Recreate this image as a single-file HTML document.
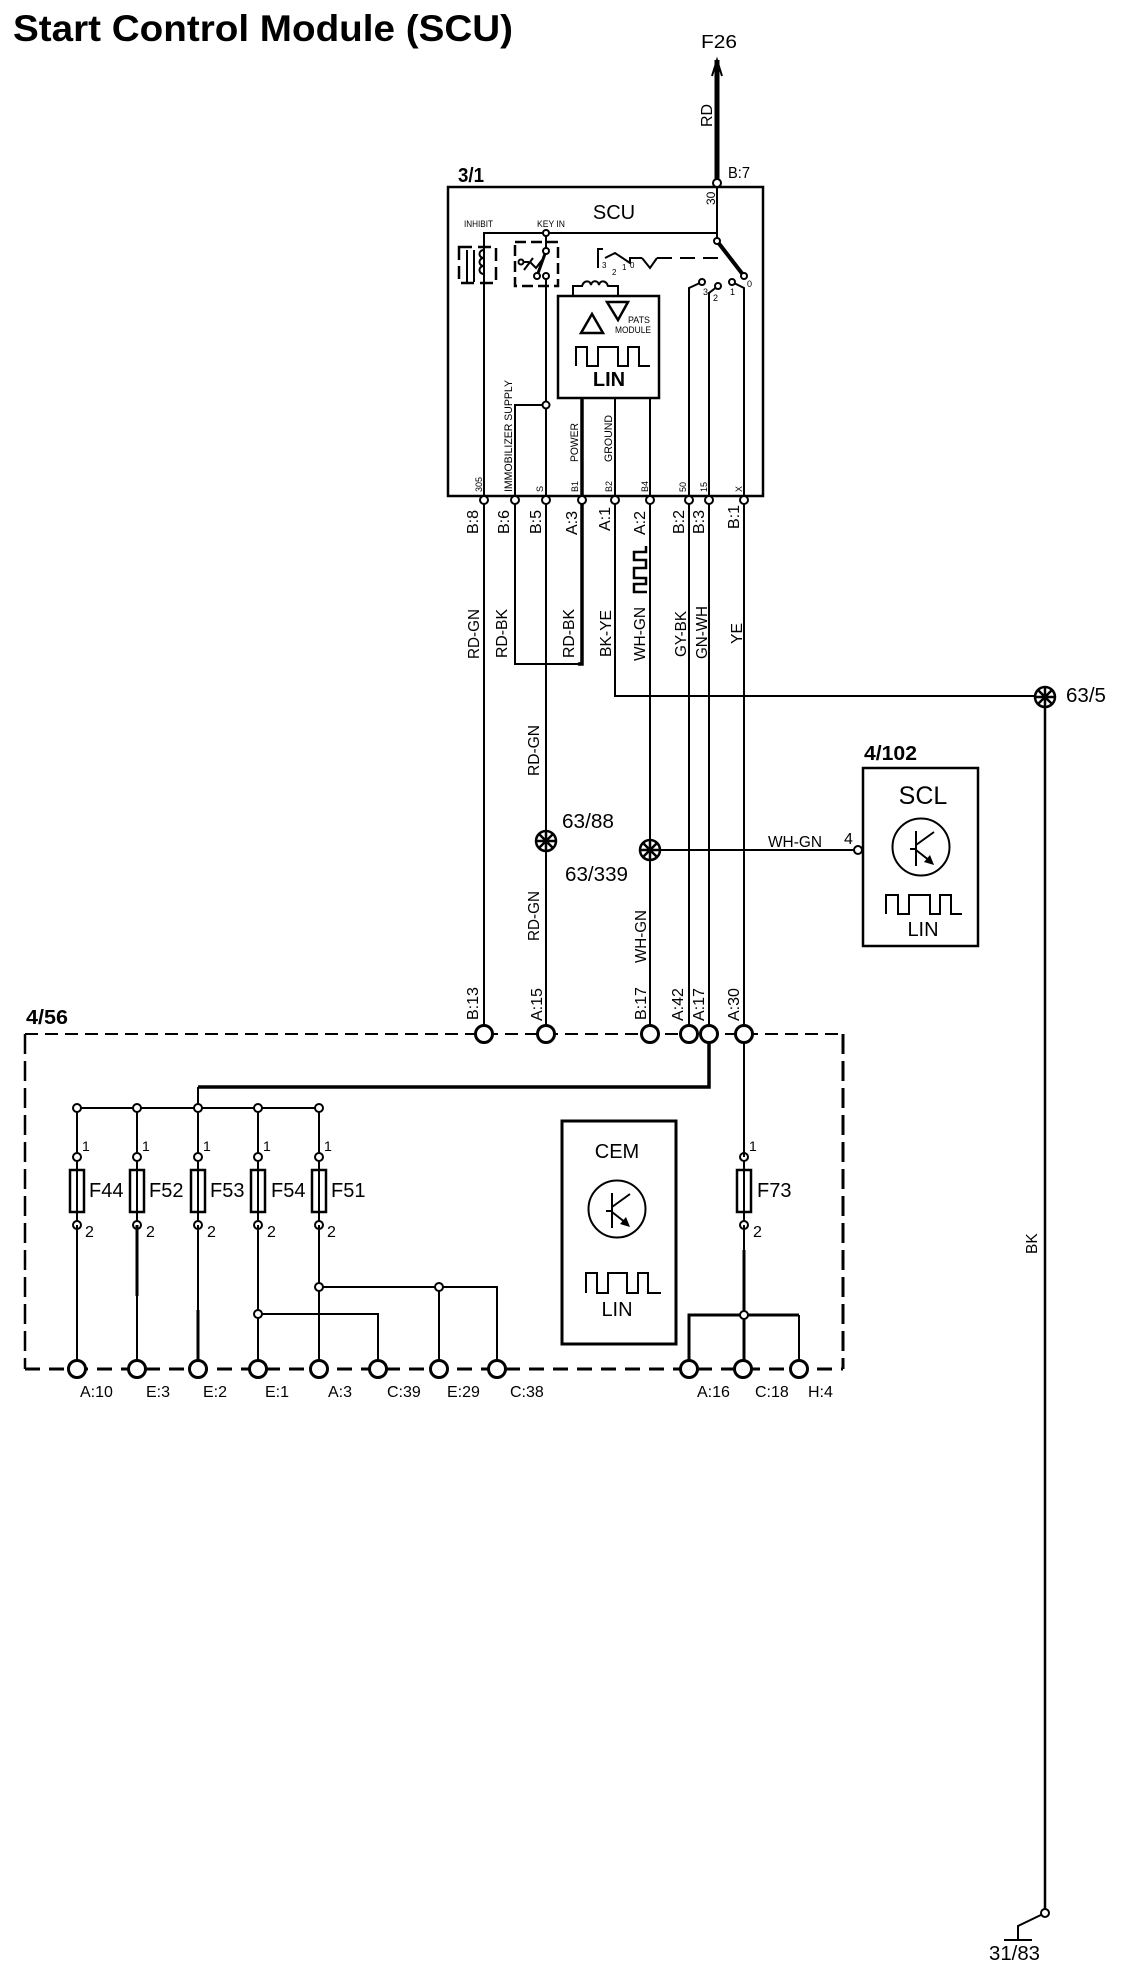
<!DOCTYPE html>
<html>
<head>
<meta charset="utf-8">
<style>
html,body{margin:0;padding:0;background:#fff;}
svg{display:block;}
text{font-family:"Liberation Sans",sans-serif;fill:#000;}
.w{fill:none;stroke:#000;stroke-width:2;}
.t{fill:none;stroke:#000;stroke-width:3.5;}
.n{fill:#fff;stroke:#000;stroke-width:2;}
.b{fill:#fff;stroke:#000;stroke-width:3;}
.s{font-size:16px;}
.m{font-size:20px;}
.x{font-size:9px;}
.i{font-size:11px;}
.l{font-size:15.5px;}
</style>
</head>
<body>
<svg width="1136" height="1972" viewBox="0 0 1136 1972" xmlns="http://www.w3.org/2000/svg">
<defs>
<g id="gnd">
<circle r="10" fill="#fff" stroke="#000" stroke-width="2.5"/>
<path d="M-10,0H10M0,-10V10M-7,-7L7,7M-7,7L7,-7" stroke="#000" stroke-width="2.5" fill="none"/>
</g>
<g id="tr">
<circle r="28.5" fill="#fff" stroke="#000" stroke-width="2"/>
<path d="M-5,-16V19M-11,2H-5M-5,-2L13,-15M-5,3L9,14" stroke="#000" stroke-width="2" fill="none"/>
<polygon points="13,18 3,15 9,8" fill="#000"/>
</g>
<g id="fuse">
<path d="M0,0V68" class="w"/>
<rect x="-7" y="13" width="14" height="42" fill="#fff" stroke="#000" stroke-width="2.5"/>
<path d="M0,13V55" class="w"/>
<circle cx="0" cy="0" r="4" class="n"/>
<circle cx="0" cy="68" r="4" class="n"/>
</g>
</defs>

<rect width="1136" height="1972" fill="#fff"/>

<text x="13" y="41" font-size="37" font-weight="bold" textLength="500" lengthAdjust="spacingAndGlyphs">Start Control Module (SCU)</text>

<!-- Top feed -->
<path d="M717,60V183" fill="none" stroke="#000" stroke-width="5"/>
<path d="M712,76L717,60L722,76" fill="none" stroke="#000" stroke-width="2"/>
<text x="701" y="48" font-size="18" textLength="36" lengthAdjust="spacingAndGlyphs">F26</text>
<text class="s" transform="translate(712,127) rotate(-90)">RD</text>
<text x="728" y="178" class="s" textLength="22" lengthAdjust="spacingAndGlyphs">B:7</text>
<text x="458" y="182" class="m" font-weight="bold" textLength="26" lengthAdjust="spacingAndGlyphs">3/1</text>

<!-- SCU box -->
<rect x="448" y="187" width="315" height="309" fill="#fff" stroke="#000" stroke-width="2.5"/>
<text x="614" y="219" class="m" text-anchor="middle">SCU</text>
<text x="464" y="227" class="x" textLength="29" lengthAdjust="spacingAndGlyphs">INHIBIT</text>
<text x="537" y="227" class="x" textLength="28" lengthAdjust="spacingAndGlyphs">KEY IN</text>
<text font-size="12" transform="translate(715,205) rotate(-90)">30</text>

<!-- internal wires -->
<path class="w" d="M717,183V241M717,233H484V500"/>
<path class="w" d="M546,233V251M546,276V500"/>
<path class="w" d="M515,500V405H546"/>
<path class="t" d="M582,398V500"/>
<path class="w" d="M615,398V500M650,398V500"/>
<path class="w" d="M702,282L689,288V500M718,286L709,293V500M732,282L744,288V500"/>
<path d="M717,241L744,276" fill="none" stroke="#000" stroke-width="4"/>
<circle cx="717" cy="241" r="3" class="n"/>
<circle cx="744" cy="276" r="3" class="n"/>
<circle cx="702" cy="282" r="3" class="n"/>
<circle cx="718" cy="286" r="3" class="n"/>
<circle cx="732" cy="282" r="3" class="n"/>
<text x="747" y="287" class="x">0</text>
<text x="703" y="295" class="x">3</text>
<text x="713" y="301" class="x">2</text>
<text x="730" y="295" class="x">1</text>

<!-- inhibit relay -->
<rect x="459" y="247" width="37" height="36" fill="none" stroke="#000" stroke-width="2.5" stroke-dasharray="13,6"/>
<path class="w" d="M467,250V282M474,250V282"/>
<path class="w" d="M484,250C478,250 478,258 484,258C478,258 478,266 484,266C478,266 478,274 484,274"/>

<!-- key in switch -->
<rect x="515" y="242" width="43" height="44" fill="none" stroke="#000" stroke-width="2.5" stroke-dasharray="11,5"/>
<path d="M546,251L537,276" fill="none" stroke="#000" stroke-width="3"/>
<path class="w" d="M523,262H529M524,270L533,258M530,262L536,268L542,260"/>
<circle cx="521" cy="262" r="2.5" class="n"/>
<circle cx="546" cy="233" r="3" class="n"/>
<circle cx="546" cy="251" r="3" class="n"/>
<circle cx="537" cy="276" r="3" class="n"/>
<circle cx="546" cy="276" r="3" class="n"/>
<circle cx="546" cy="405" r="3.5" class="n"/>

<!-- key mechanism -->
<path class="w" d="M598,268V249H603M605,258L615,253L630,263V258H642M642,258L650,268L657,258"/>
<path class="w" d="M657,258H726" stroke-dasharray="15,8"/>
<text x="602" y="268" font-size="8">3</text>
<text x="612" y="275" font-size="8">2</text>
<text x="622" y="270" font-size="8">1</text>
<text x="630" y="268" font-size="8">0</text>

<!-- PATS -->
<path class="w" d="M573,296V286H582C584,280 590,280 591,285C592,280 598,280 599,285C600,280 606,280 608,286H618V296"/>
<rect x="558" y="296" width="101" height="102" fill="#fff" stroke="#000" stroke-width="2.5"/>
<polygon points="581,333 592,314 603,333" fill="none" stroke="#000" stroke-width="2.5"/>
<polygon points="607,302 628,302 618,320" fill="none" stroke="#000" stroke-width="2.5"/>
<text x="628" y="323" class="x" textLength="22" lengthAdjust="spacingAndGlyphs">PATS</text>
<text x="615" y="333" class="x" textLength="36" lengthAdjust="spacingAndGlyphs">MODULE</text>
<path class="w" d="M576,366V347H587V366H598V347H618V366H628V347H639V366H650"/>
<text x="609" y="386" class="m" text-anchor="middle" font-weight="bold">LIN</text>

<!-- inner rotated labels -->
<text class="i" transform="translate(512,492) rotate(-90)" textLength="112" lengthAdjust="spacingAndGlyphs">IMMOBILIZER SUPPLY</text>
<text class="i" transform="translate(578,462) rotate(-90)" textLength="39" lengthAdjust="spacingAndGlyphs">POWER</text>
<text class="i" transform="translate(612,462) rotate(-90)" textLength="47" lengthAdjust="spacingAndGlyphs">GROUND</text>
<text class="x" transform="translate(482,492) rotate(-90)">305</text>
<text class="x" transform="translate(543,492) rotate(-90)">S</text>
<text class="x" transform="translate(578,492) rotate(-90)">B1</text>
<text class="x" transform="translate(612,492) rotate(-90)">B2</text>
<text class="x" transform="translate(648,492) rotate(-90)">B4</text>
<text class="x" transform="translate(686,492) rotate(-90)">50</text>
<text class="x" transform="translate(707,492) rotate(-90)">15</text>
<text class="x" transform="translate(742,492) rotate(-90)">X</text>

<!-- Harness wires -->
<path class="w" d="M484,500V1034M546,500V1034M650,500V1034M689,500V1034M709,500V1034M744,500V1034"/>
<path class="w" d="M515,500V664H582"/>
<path class="t" d="M582,500V664H578"/>
<path class="w" d="M615,500V696H1045"/>
<path d="M1045,697V1913" fill="none" stroke="#000" stroke-width="2.5"/>
<path class="w" d="M650,850H858"/>
<path class="w" d="M1045,1913L1018,1926V1940M1004,1940H1032"/>
<circle cx="1045" cy="1913" r="4" class="n"/>
<text x="989" y="1960" font-size="20" textLength="51" lengthAdjust="spacingAndGlyphs">31/83</text>

<!-- SCU pins -->
<circle cx="484" cy="500" r="4" class="n"/>
<circle cx="515" cy="500" r="4" class="n"/>
<circle cx="546" cy="500" r="4" class="n"/>
<circle cx="582" cy="500" r="4" class="n"/>
<circle cx="615" cy="500" r="4" class="n"/>
<circle cx="650" cy="500" r="4" class="n"/>
<circle cx="689" cy="500" r="4" class="n"/>
<circle cx="709" cy="500" r="4" class="n"/>
<circle cx="744" cy="500" r="4" class="n"/>
<circle cx="717" cy="183" r="4" class="n"/>

<text class="s" transform="translate(478,534) rotate(-90)">B:8</text>
<text class="s" transform="translate(509,534) rotate(-90)">B:6</text>
<text class="s" transform="translate(541,534) rotate(-90)">B:5</text>
<text class="s" transform="translate(577,535) rotate(-90)">A:3</text>
<text class="s" transform="translate(610,531) rotate(-90)">A:1</text>
<text class="s" transform="translate(645,535) rotate(-90)">A:2</text>
<text class="s" transform="translate(684,534) rotate(-90)">B:2</text>
<text class="s" transform="translate(704,534) rotate(-90)">B:3</text>
<text class="s" transform="translate(739,529) rotate(-90)">B:1</text>

<path d="M646,546V552H634V560H646V568H634V578H646V584H634V592H647" fill="none" stroke="#000" stroke-width="2.5"/>

<text class="l" transform="translate(479,659) rotate(-90)" textLength="50" lengthAdjust="spacingAndGlyphs">RD-GN</text>
<text class="l" transform="translate(507,658) rotate(-90)" textLength="49" lengthAdjust="spacingAndGlyphs">RD-BK</text>
<text class="l" transform="translate(574,658) rotate(-90)" textLength="49" lengthAdjust="spacingAndGlyphs">RD-BK</text>
<text class="l" transform="translate(611,657) rotate(-90)" textLength="47" lengthAdjust="spacingAndGlyphs">BK-YE</text>
<text class="l" transform="translate(645,661) rotate(-90)" textLength="54" lengthAdjust="spacingAndGlyphs">WH-GN</text>
<text class="l" transform="translate(686,657) rotate(-90)" textLength="46" lengthAdjust="spacingAndGlyphs">GY-BK</text>
<text class="l" transform="translate(707,659) rotate(-90)" textLength="53" lengthAdjust="spacingAndGlyphs">GN-WH</text>
<text class="l" transform="translate(742,644) rotate(-90)" textLength="21" lengthAdjust="spacingAndGlyphs">YE</text>
<text class="l" transform="translate(539,776) rotate(-90)" textLength="51" lengthAdjust="spacingAndGlyphs">RD-GN</text>
<text class="l" transform="translate(539,941) rotate(-90)" textLength="50" lengthAdjust="spacingAndGlyphs">RD-GN</text>
<text class="l" transform="translate(646,963) rotate(-90)" textLength="53" lengthAdjust="spacingAndGlyphs">WH-GN</text>
<text class="l" transform="translate(1037,1254) rotate(-90)">BK</text>

<!-- ground splices -->
<use href="#gnd" x="546" y="841"/>
<use href="#gnd" x="650" y="850"/>
<use href="#gnd" x="1045" y="697"/>
<text x="562" y="828" class="m" textLength="52" lengthAdjust="spacingAndGlyphs">63/88</text>
<text x="565" y="881" class="m" textLength="63" lengthAdjust="spacingAndGlyphs">63/339</text>
<text x="1066" y="702" class="m" textLength="40" lengthAdjust="spacingAndGlyphs">63/5</text>

<!-- SCL -->
<text x="864" y="760" class="m" font-weight="bold" textLength="53" lengthAdjust="spacingAndGlyphs">4/102</text>
<rect x="863" y="768" width="115" height="178" fill="#fff" stroke="#000" stroke-width="2.5"/>
<text x="923" y="804" font-size="25" text-anchor="middle">SCL</text>
<use href="#tr" x="921" y="847"/>
<path class="w" d="M886,914V895H898V914H909V895H930V914H940V895H951V914H962"/>
<text x="923" y="936" class="m" text-anchor="middle">LIN</text>
<circle cx="858" cy="850" r="4" class="n"/>
<text x="768" y="847" class="l" textLength="54" lengthAdjust="spacingAndGlyphs">WH-GN</text>
<text x="844" y="844" class="s">4</text>

<!-- 4/56 dashed box -->
<text x="26" y="1024" class="m" font-weight="bold" textLength="42" lengthAdjust="spacingAndGlyphs">4/56</text>
<path d="M25,1034H843" fill="none" stroke="#000" stroke-width="2" stroke-dasharray="13,7"/>
<path d="M25,1034V1369" fill="none" stroke="#000" stroke-width="2.5" stroke-dasharray="20,7"/>
<path d="M843,1034V1369" fill="none" stroke="#000" stroke-width="3" stroke-dasharray="20,7"/>
<path d="M25,1369H843" fill="none" stroke="#000" stroke-width="3" stroke-dasharray="15,9"/>

<!-- bus -->
<path class="t" d="M709,1034V1087H198" stroke-width="3"/>
<path class="w" d="M198,1087V1108M77,1108H319"/>
<path class="w" d="M77,1108V1157M137,1108V1157M198,1108V1157M258,1108V1157M319,1108V1157"/>
<circle cx="77" cy="1108" r="4" class="n"/>
<circle cx="137" cy="1108" r="4" class="n"/>
<circle cx="198" cy="1108" r="4" class="n"/>
<circle cx="258" cy="1108" r="4" class="n"/>
<circle cx="319" cy="1108" r="4" class="n"/>

<!-- fuses -->
<use href="#fuse" x="77" y="1157"/>
<use href="#fuse" x="137" y="1157"/>
<use href="#fuse" x="198" y="1157"/>
<use href="#fuse" x="258" y="1157"/>
<use href="#fuse" x="319" y="1157"/>
<use href="#fuse" x="744" y="1157"/>

<text x="82" y="1151" font-size="14">1</text>
<text x="142" y="1151" font-size="14">1</text>
<text x="203" y="1151" font-size="14">1</text>
<text x="263" y="1151" font-size="14">1</text>
<text x="324" y="1151" font-size="14">1</text>
<text x="749" y="1151" font-size="14">1</text>
<text x="85" y="1237" class="s">2</text>
<text x="146" y="1237" class="s">2</text>
<text x="207" y="1237" class="s">2</text>
<text x="267" y="1237" class="s">2</text>
<text x="327" y="1237" class="s">2</text>
<text x="753" y="1237" class="s">2</text>
<text x="89" y="1197" class="m">F44</text>
<text x="149" y="1197" class="m">F52</text>
<text x="210" y="1197" class="m">F53</text>
<text x="271" y="1197" class="m">F54</text>
<text x="331" y="1197" class="m">F51</text>
<text x="757" y="1197" class="m">F73</text>

<!-- lower wires -->
<path class="w" d="M77,1225V1369M198,1225V1369M258,1225V1369M319,1225V1369M137,1225V1369"/>
<path d="M137,1225V1296M198,1310V1369" fill="none" stroke="#000" stroke-width="3"/>
<path class="w" d="M258,1314H378V1369M319,1287H497V1369M439,1287V1369"/>
<path class="w" d="M744,1034V1157"/>
<path class="w" d="M744,1225V1250"/>
<path d="M744,1250V1369M689,1369V1315H799" fill="none" stroke="#000" stroke-width="3"/>
<path class="w" d="M799,1315V1369" stroke-width="2.5"/>
<circle cx="258" cy="1314" r="4" class="n"/>
<circle cx="319" cy="1287" r="4" class="n"/>
<circle cx="439" cy="1287" r="4" class="n"/>
<circle cx="744" cy="1315" r="4" class="n"/>

<!-- big nodes top -->
<circle cx="484" cy="1034" r="8.5" class="b"/>
<circle cx="546" cy="1034" r="8.5" class="b"/>
<circle cx="650" cy="1034" r="8.5" class="b"/>
<circle cx="689" cy="1034" r="8.5" class="b"/>
<circle cx="709" cy="1034" r="8.5" class="b"/>
<circle cx="744" cy="1034" r="8.5" class="b"/>
<!-- big nodes bottom -->
<circle cx="77" cy="1369" r="8.5" class="b"/>
<circle cx="137" cy="1369" r="8.5" class="b"/>
<circle cx="198" cy="1369" r="8.5" class="b"/>
<circle cx="258" cy="1369" r="8.5" class="b"/>
<circle cx="319" cy="1369" r="8.5" class="b"/>
<circle cx="378" cy="1369" r="8.5" class="b"/>
<circle cx="439" cy="1369" r="8.5" class="b"/>
<circle cx="497" cy="1369" r="8.5" class="b"/>
<circle cx="689" cy="1369" r="8.5" class="b"/>
<circle cx="743" cy="1369" r="8.5" class="b"/>
<circle cx="799" cy="1369" r="8.5" class="b"/>

<text class="s" transform="translate(478,1020) rotate(-90)">B:13</text>
<text class="s" transform="translate(542,1021) rotate(-90)">A:15</text>
<text class="s" transform="translate(646,1020) rotate(-90)">B:17</text>
<text class="s" transform="translate(683,1021) rotate(-90)">A:42</text>
<text class="s" transform="translate(704,1021) rotate(-90)">A:17</text>
<text class="s" transform="translate(739,1021) rotate(-90)">A:30</text>

<text x="80" y="1397" class="s">A:10</text>
<text x="146" y="1397" class="s">E:3</text>
<text x="203" y="1397" class="s">E:2</text>
<text x="265" y="1397" class="s">E:1</text>
<text x="328" y="1397" class="s">A:3</text>
<text x="387" y="1397" class="s">C:39</text>
<text x="447" y="1397" class="s">E:29</text>
<text x="510" y="1397" class="s">C:38</text>
<text x="697" y="1397" class="s">A:16</text>
<text x="755" y="1397" class="s">C:18</text>
<text x="808" y="1397" class="s">H:4</text>

<!-- CEM -->
<rect x="562" y="1121" width="114" height="223" fill="#fff" stroke="#000" stroke-width="3"/>
<text x="617" y="1158" class="m" text-anchor="middle">CEM</text>
<use href="#tr" x="617" y="1209"/>
<path class="w" d="M586,1293V1273H597V1293H608V1273H627V1293H638V1273H648V1293H661"/>
<text x="617" y="1316" class="m" text-anchor="middle">LIN</text>
</svg>
</body>
</html>
